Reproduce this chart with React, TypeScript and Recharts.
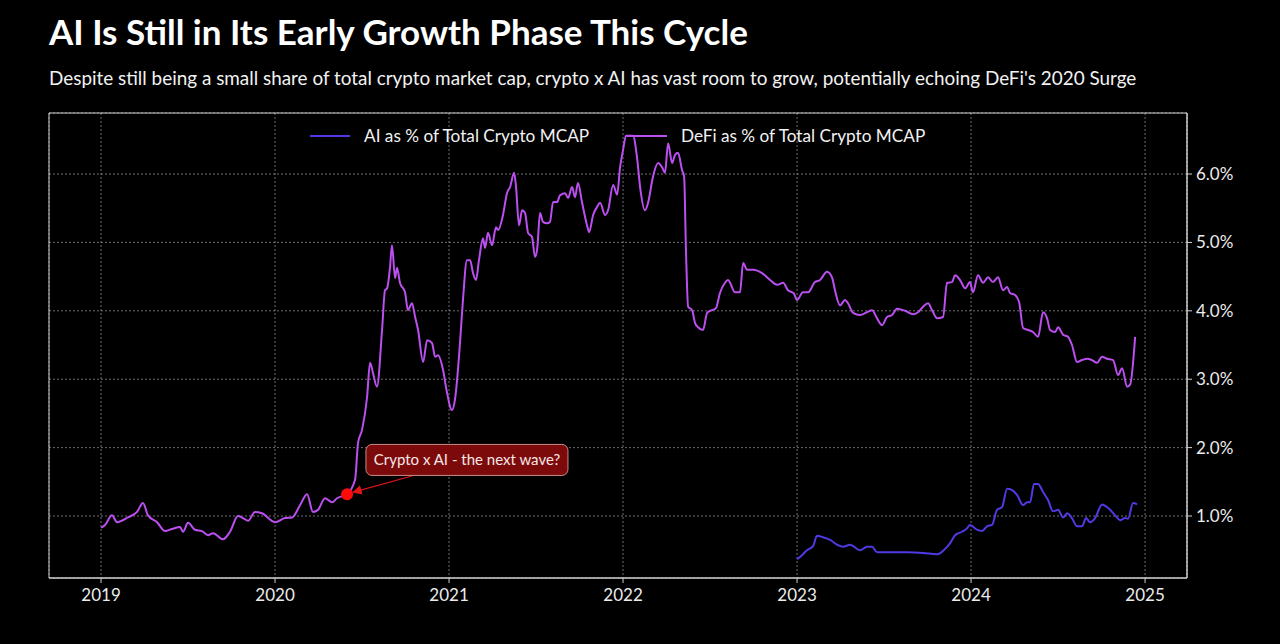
import React from "react";
import {
  LineChart,
  Line,
  XAxis,
  YAxis,
  CartesianGrid,
  ReferenceArea,
  ReferenceDot,
  ReferenceLine,
} from "recharts";

const FONT = "Lato, 'Open Sans', sans-serif";
const AI_COLOR = "#4f3ae6";
const DEFI_COLOR = "#bb4ff0";

const YEAR_TICKS = [2019, 2020, 2021, 2022, 2023, 2024, 2025];
const PCT_TICKS = [1, 2, 3, 4, 5, 6];
const X_DOMAIN = [2018.701, 2025.241];
const Y_DOMAIN = [0.094, 6.892];

// DeFi share of total crypto market cap (%), fractional years
const DEFI_DATES = [
  2019.0, 2019.023, 2019.063, 2019.092, 2019.155, 2019.207, 2019.241, 2019.27, 2019.322, 2019.368,
  2019.408, 2019.454, 2019.471, 2019.5, 2019.54, 2019.58, 2019.615, 2019.644, 2019.701, 2019.741,
  2019.787, 2019.816, 2019.845, 2019.885, 2019.925, 2020.0, 2020.057, 2020.098, 2020.144, 2020.184,
  2020.218, 2020.247, 2020.287, 2020.328, 2020.356, 2020.414, 2020.46, 2020.477, 2020.5, 2020.529,
  2020.546, 2020.563, 2020.586, 2020.615, 2020.632, 2020.644, 2020.661, 2020.672, 2020.69, 2020.701,
  2020.718, 2020.747, 2020.764, 2020.787, 2020.805, 2020.822, 2020.851, 2020.874, 2020.902, 2020.92,
  2020.937, 2020.966, 2020.985, 2021.017, 2021.034, 2021.063, 2021.08, 2021.103, 2021.121, 2021.138,
  2021.155, 2021.172, 2021.195, 2021.207, 2021.224, 2021.247, 2021.27, 2021.282, 2021.31, 2021.333,
  2021.351, 2021.374, 2021.385, 2021.402, 2021.42, 2021.437, 2021.454, 2021.477, 2021.494, 2021.506,
  2021.523, 2021.54, 2021.563, 2021.58, 2021.598, 2021.621, 2021.638, 2021.667, 2021.684, 2021.707,
  2021.724, 2021.741, 2021.764, 2021.793, 2021.805, 2021.828, 2021.851, 2021.868, 2021.897, 2021.914,
  2021.943, 2021.966, 2021.983, 2022.0, 2022.017, 2022.057, 2022.08, 2022.098, 2022.126, 2022.144,
  2022.172, 2022.201, 2022.224, 2022.241, 2022.259, 2022.282, 2022.299, 2022.316, 2022.339, 2022.351,
  2022.362, 2022.374, 2022.397, 2022.414, 2022.431, 2022.46, 2022.483, 2022.511, 2022.534, 2022.557,
  2022.586, 2022.603, 2022.644, 2022.672, 2022.69, 2022.713, 2022.747, 2022.799, 2022.845, 2022.885,
  2022.92, 2022.948, 2022.98, 2023.0, 2023.034, 2023.063, 2023.103, 2023.132, 2023.172, 2023.201,
  2023.218, 2023.247, 2023.276, 2023.293, 2023.322, 2023.362, 2023.402, 2023.431, 2023.46, 2023.489,
  2023.517, 2023.546, 2023.575, 2023.621, 2023.667, 2023.695, 2023.724, 2023.753, 2023.776, 2023.805,
  2023.839, 2023.862, 2023.891, 2023.908, 2023.937, 2023.966, 2023.994, 2024.011, 2024.04, 2024.069,
  2024.098, 2024.126, 2024.155, 2024.184, 2024.207, 2024.224, 2024.253, 2024.276, 2024.299, 2024.328,
  2024.356, 2024.385, 2024.414, 2024.437, 2024.454, 2024.483, 2024.5, 2024.529, 2024.557, 2024.58,
  2024.609, 2024.638, 2024.667, 2024.695, 2024.724, 2024.753, 2024.782, 2024.816, 2024.845, 2024.868,
  2024.897, 2024.914, 2024.943,
];
const DEFI_PCT = [
  0.83, 0.87, 1.01, 0.91, 0.98, 1.06, 1.19, 1.01, 0.91, 0.78,
  0.81, 0.84, 0.77, 0.9, 0.8, 0.78, 0.72, 0.75, 0.66, 0.77,
  1.0, 0.97, 0.93, 1.06, 1.04, 0.91, 0.97, 0.98, 1.16, 1.32,
  1.06, 1.09, 1.26, 1.2, 1.26, 1.32, 1.53, 2.07, 2.26, 2.74,
  3.24, 3.09, 2.89, 3.72, 4.3, 4.33, 4.64, 4.96, 4.48, 4.63,
  4.41, 4.27, 4.01, 4.11, 3.91, 3.72, 3.25, 3.57, 3.53, 3.33,
  3.35, 3.13, 2.85, 2.55, 2.7, 3.53, 4.16, 4.74, 4.74, 4.55,
  4.45, 4.74, 5.06, 4.92, 5.14, 4.96, 5.22, 5.18, 5.4, 5.72,
  5.81, 6.02, 5.81, 5.25, 5.47, 5.43, 5.14, 5.08, 4.79, 4.89,
  5.43, 5.3, 5.28, 5.3, 5.59, 5.59, 5.69, 5.72, 5.65, 5.81,
  5.66, 5.87, 5.59, 5.25, 5.15, 5.4, 5.52, 5.58, 5.4, 5.47,
  5.84, 5.7, 6.1, 6.35, 6.56, 6.56, 6.25, 5.81, 5.47, 5.58,
  5.96, 6.16, 6.1, 6.02, 6.45, 6.16, 6.28, 6.31, 6.06, 5.96,
  4.85, 4.06, 4.01, 3.82, 3.76, 3.72, 3.97, 4.01, 4.04, 4.26,
  4.41, 4.45, 4.27, 4.27, 4.7, 4.6, 4.6, 4.55, 4.45, 4.38,
  4.41, 4.3, 4.26, 4.16, 4.27, 4.27, 4.42, 4.45, 4.57, 4.49,
  4.3, 4.08, 4.16, 4.11, 3.97, 3.94, 3.98, 4.01, 3.89, 3.79,
  3.91, 3.94, 4.03, 4.0, 3.95, 3.98, 4.06, 4.11, 4.01, 3.89,
  3.91, 4.41, 4.42, 4.52, 4.45, 4.33, 4.42, 4.27, 4.52, 4.41,
  4.49, 4.42, 4.49, 4.3, 4.35, 4.26, 4.23, 4.13, 3.75, 3.72,
  3.69, 3.62, 3.98, 3.89, 3.72, 3.69, 3.76, 3.65, 3.62, 3.5,
  3.25, 3.28, 3.3, 3.28, 3.24, 3.33, 3.3, 3.28, 3.06, 3.16,
  2.89, 2.92, 3.62,
];

// AI share of total crypto market cap (%), fractional years
const AI_DATES = [
  2023.0, 2023.017, 2023.057, 2023.092, 2023.115, 2023.149, 2023.19, 2023.23, 2023.264, 2023.305,
  2023.362, 2023.402, 2023.431, 2023.46, 2023.534, 2023.632, 2023.724, 2023.805, 2023.851, 2023.879,
  2023.908, 2023.948, 2023.977, 2023.994, 2024.034, 2024.063, 2024.092, 2024.121, 2024.149, 2024.178,
  2024.207, 2024.236, 2024.264, 2024.299, 2024.322, 2024.339, 2024.362, 2024.385, 2024.414, 2024.443,
  2024.471, 2024.5, 2024.529, 2024.552, 2024.58, 2024.609, 2024.638, 2024.661, 2024.684, 2024.713,
  2024.753, 2024.787, 2024.828, 2024.856, 2024.885, 2024.902, 2024.931, 2024.954,
];
const AI_PCT = [
  0.37, 0.4, 0.5, 0.56, 0.71, 0.69, 0.65, 0.58, 0.55, 0.58,
  0.5, 0.55, 0.55, 0.47, 0.47, 0.47, 0.46, 0.44, 0.52, 0.6,
  0.72, 0.77, 0.82, 0.87, 0.8, 0.78, 0.85, 0.87, 1.09, 1.13,
  1.4, 1.38, 1.31, 1.16, 1.2, 1.2, 1.47, 1.47, 1.35, 1.23,
  1.07, 1.09, 0.98, 1.04, 0.97, 0.85, 0.85, 0.97, 0.91, 0.97,
  1.17, 1.12, 1.01, 0.94, 0.97, 0.96, 1.19, 1.17,
];

const SERIES_NAMES = ["AI as % of Total Crypto MCAP", "DeFi as % of Total Crypto MCAP"];

const ANNOTATION_TEXT = "Crypto x AI - the next wave?";
const ANNOTATION_POINT = { t: 2020.414, v: 1.32 };
const ANNOTATION_BOX = { t: 2021.103, v: 1.82 };
const ARROW_FROM = { t: 2020.787, v: 1.585 };
const ARROW_TO = { t: 2020.45, v: 1.35 };

const defiData = DEFI_DATES.map((t, i) => ({ t, v: DEFI_PCT[i] }));
const aiData = AI_DATES.map((t, i) => ({ t, v: AI_PCT[i] }));

const AnnotationBox = (props: any) => {
  const { cx, cy } = props;
  const w = 202;
  const h = 31;
  return (
    <g>
      <rect
        x={cx - w / 2}
        y={cy - h / 2}
        width={w}
        height={h}
        rx={6}
        fill="#7c0a0a"
        stroke="#c98a8a"
        strokeWidth={1}
      />
      <text
        x={cx}
        y={cy + 5}
        textAnchor="middle"
        fill="#f4e6e6"
        fontSize={15}
        fontFamily={FONT}
      >
        {ANNOTATION_TEXT}
      </text>
    </g>
  );
};

const Arrow = (props: any) => {
  const { x1, y1, x2, y2 } = props;
  return (
    <g>
      <defs>
        <marker id="arrowHead" markerWidth="8" markerHeight="8" refX="7" refY="4" orient="auto">
          <path d="M0,0 L8,4 L0,8 Z" fill="#e0141a" />
        </marker>
      </defs>
      <line x1={x1} y1={y1} x2={x2} y2={y2} stroke="#e0141a" strokeWidth={1.2} markerEnd="url(#arrowHead)" />
    </g>
  );
};

function Legend() {
  const items = [
    { name: SERIES_NAMES[0], color: AI_COLOR, x: 310 },
    { name: SERIES_NAMES[1], color: DEFI_COLOR, x: 627 },
  ];
  return (
    <g>
      {items.map((it) => (
        <g key={it.name}>
          <line x1={it.x} x2={it.x + 40} y1={136} y2={136} stroke={it.color} strokeWidth={2} />
          <text x={it.x + 54} y={142} fill="#f2f2f2" fontSize={17.2} fontFamily={FONT}>
            {it.name}
          </text>
        </g>
      ))}
    </g>
  );
}

export default function App() {
  return (
    <div
      style={{
        position: "fixed",
        left: 0,
        top: 0,
        width: 1280,
        height: 644,
        background: "#000",
        overflow: "hidden",
      }}
    >
      <LineChart
        width={1280}
        height={644}
        margin={{ top: 113, left: 49, right: 0, bottom: 36 }}
        style={{ position: "absolute", left: 0, top: 0 }}
      >
        <CartesianGrid stroke="#8a8a8a" strokeDasharray="2 2" strokeWidth={0.8} />
        <XAxis
          dataKey="t"
          type="number"
          domain={X_DOMAIN}
          ticks={YEAR_TICKS}
          allowDataOverflow
          height={30}
          stroke="#cfcfcf"
          tickSize={5}
          tick={{ fill: "#ececec", fontSize: 17, fontFamily: FONT, dy: 4 }}
        />
        <YAxis
          orientation="right"
          type="number"
          domain={Y_DOMAIN}
          ticks={PCT_TICKS}
          allowDataOverflow
          width={93}
          stroke="#cfcfcf"
          tickSize={5}
          tickFormatter={(v: number) => `${v.toFixed(1)}%`}
          tick={{ fill: "#ececec", fontSize: 17, fontFamily: FONT, dx: 2 }}
        />
        <ReferenceArea
          x1={X_DOMAIN[0]}
          x2={X_DOMAIN[1]}
          y1={Y_DOMAIN[0]}
          y2={Y_DOMAIN[1]}
          fill="none"
          stroke="#cfcfcf"
          strokeWidth={1}
          ifOverflow="visible"
        />
        <Line
          data={aiData}
          dataKey="v"
          name={SERIES_NAMES[0]}
          type="monotone"
          stroke={AI_COLOR}
          strokeWidth={2}
          dot={false}
          isAnimationActive={false}
        />
        <Line
          data={defiData}
          dataKey="v"
          name={SERIES_NAMES[1]}
          type="monotone"
          stroke={DEFI_COLOR}
          strokeWidth={2}
          dot={false}
          isAnimationActive={false}
        />
        <ReferenceLine
          segment={[
            { x: ARROW_FROM.t, y: ARROW_FROM.v },
            { x: ARROW_TO.t, y: ARROW_TO.v },
          ]}
          shape={Arrow}
          ifOverflow="visible"
        />
        <ReferenceDot
          x={ANNOTATION_POINT.t}
          y={ANNOTATION_POINT.v}
          r={6}
          fill="#ff0a0a"
          stroke="none"
        />
        <ReferenceDot x={ANNOTATION_BOX.t} y={ANNOTATION_BOX.v} shape={AnnotationBox} />
      </LineChart>
      <svg
        width={1280}
        height={644}
        style={{ position: "absolute", left: 0, top: 0, pointerEvents: "none" }}
      >
        <text x={49} y={45} fill="#ffffff" fontSize={35} fontWeight={700} fontFamily={FONT}>
          AI Is Still in Its Early Growth Phase This Cycle
        </text>
        <text x={49} y={85} fill="#f2f2f2" fontSize={18.9} fontFamily={FONT}>
          Despite still being a small share of total crypto market cap, crypto x AI has vast room to grow,
          potentially echoing DeFi's 2020 Surge
        </text>
        <Legend />
      </svg>
    </div>
  );
}
